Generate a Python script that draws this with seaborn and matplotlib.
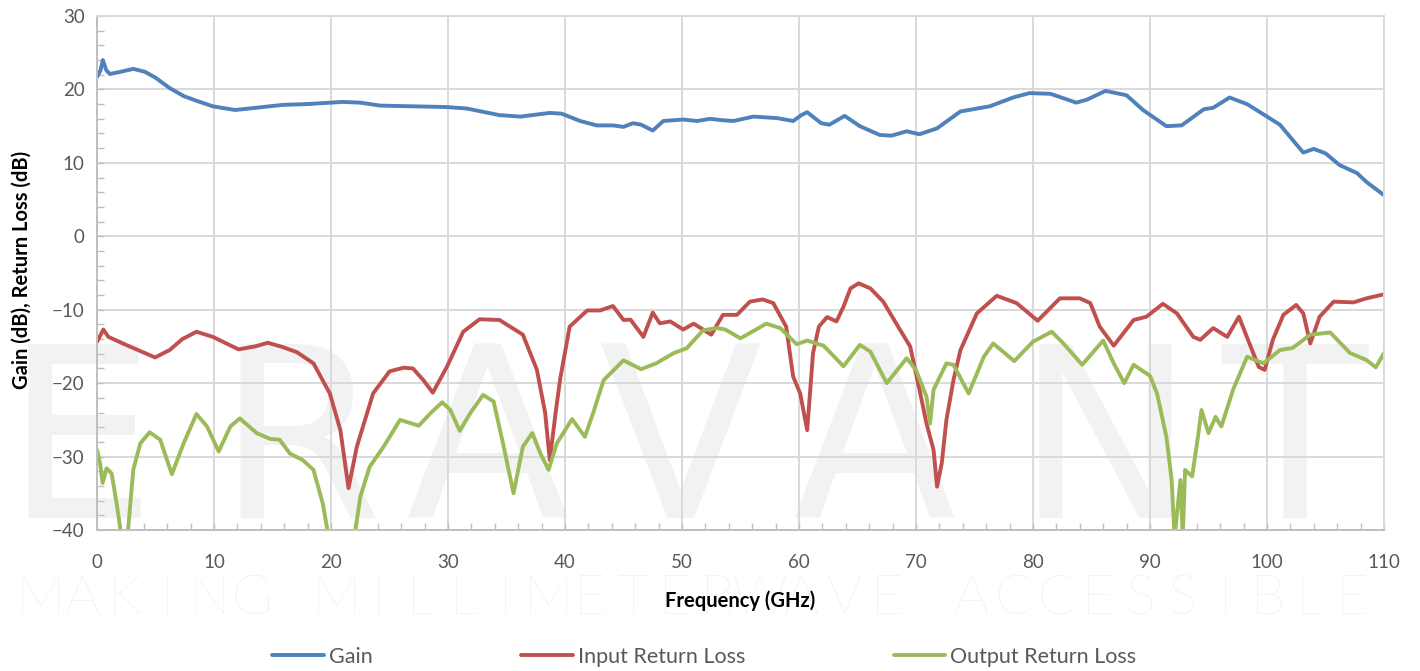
import pandas as pd
import matplotlib
matplotlib.use('Agg')
import matplotlib.pyplot as plt
from matplotlib.lines import Line2D
from matplotlib.ticker import MultipleLocator
import seaborn as sns

# Values (frequency in GHz, level in dB)
gain_freq = [0, 0.3, 0.5, 0.8, 1.1, 2.0, 3.1, 4.1, 5.0, 6.2, 7.4, 8.6, 9.9, 11.8, 13.6,
             15.9, 17.9, 21.0, 22.5, 24.2, 27.0, 29.9, 31.6, 34.4, 36.2, 38.7, 39.7, 41.3,
             42.7, 44.1, 45.0, 45.8, 46.5, 47.5, 48.4, 50.1, 51.3, 52.4, 53.5, 54.4, 56.1,
             58.1, 59.5, 60.2, 60.7, 61.9, 62.6, 63.9, 65.2, 66.9, 67.9, 69.2, 70.3, 71.8,
             73.8, 76.3, 78.3, 79.7, 81.5, 83.7, 84.6, 86.2, 88.0, 89.4, 91.4, 92.7, 94.6,
             95.4, 96.8, 98.3, 100.0, 101.1, 103.1, 104.0, 105.0, 106.2, 107.7, 108.5, 110]
gain_db = [21.7, 22.6, 24.0, 22.6, 22.1, 22.4, 22.8, 22.4, 21.6, 20.2, 19.1, 18.4, 17.7, 17.2, 17.5,
           17.9, 18.0, 18.3, 18.2, 17.8, 17.7, 17.6, 17.4, 16.5, 16.3, 16.8, 16.7, 15.7,
           15.1, 15.1, 14.9, 15.4, 15.2, 14.4, 15.7, 15.9, 15.7, 16.0, 15.8, 15.7, 16.3,
           16.1, 15.7, 16.5, 16.9, 15.4, 15.2, 16.4, 15.0, 13.8, 13.7, 14.3, 13.9, 14.7,
           17.0, 17.7, 18.9, 19.5, 19.4, 18.2, 18.6, 19.8, 19.2, 17.2, 15.0, 15.1, 17.3,
           17.5, 18.9, 18.0, 16.3, 15.2, 11.4, 11.9, 11.3, 9.7, 8.6, 7.4, 5.6]

irl_freq = [0, 0.54, 0.97, 2.5, 4.96, 6.2, 7.3, 8.5, 9.9, 12.1, 13.5, 14.6, 15.9, 17.1, 18.5,
            19.9, 20.8, 21.5, 22.2, 23.6, 25.0, 26.2, 27.0, 27.9, 28.7, 29.9, 31.3, 32.7,
            34.4, 36.4, 37.6, 38.3, 38.7, 39.2, 39.6, 40.4, 41.9, 43.0, 44.1, 45.0, 45.6,
            46.7, 47.5, 48.1, 49.0, 50.1, 51.0, 52.5, 53.5, 54.7, 55.8, 56.9, 57.8, 58.9,
            59.5, 60.1, 60.7, 61.2, 61.7, 62.4, 63.2, 63.8, 64.4, 65.1, 66.1, 67.2, 68.3,
            69.5, 70.3, 70.9, 71.5, 71.8, 72.2, 72.6, 73.2, 73.8, 75.2, 76.9, 78.6, 80.4,
            82.3, 84.0, 84.9, 85.7, 86.9, 88.6, 89.7, 91.1, 92.3, 93.7, 94.3, 95.4, 96.6,
            97.6, 98.5, 99.3, 99.8, 100.5, 101.4, 102.5, 103.1, 103.7, 104.5, 105.7, 107.4,
            108.5, 110]
irl_db = [-14.4, -12.7, -13.7, -14.8, -16.5, -15.5, -14.0, -13.0, -13.7, -15.4, -15.0, -14.5,
          -15.1, -15.8, -17.3, -21.4, -26.4, -34.3, -28.7, -21.4, -18.4, -17.9, -18.0, -19.6,
          -21.3, -17.8, -13.0, -11.3, -11.4, -13.4, -18.2, -24.0, -30.5, -24.0, -19.3, -12.3,
          -10.1, -10.1, -9.5, -11.4, -11.35, -13.7, -10.4, -11.85, -11.6, -12.7, -11.9, -13.4,
          -10.7, -10.7, -8.9, -8.6, -9.1, -12.3, -19.1, -21.4, -26.4, -15.9, -12.3, -11.0,
          -11.6, -9.6, -7.1, -6.4, -7.1, -8.9, -11.85, -15.0, -20.9, -25.5, -29.1, -34.1,
          -30.9, -25.0, -19.6, -15.5, -10.5, -8.1, -9.1, -11.5, -8.45, -8.45, -9.1, -12.3,
          -14.9, -11.4, -10.95, -9.2, -10.5, -13.7, -14.1, -12.5, -13.7, -10.95, -14.6, -17.8,
          -18.2, -14.1, -10.7, -9.35, -10.5, -14.6, -10.95, -8.9, -9.0, -8.45, -7.9]

orl_freq = [0, 0.26, 0.48, 0.82, 1.25, 1.68, 2.1, 2.6, 3.1, 3.7, 4.5, 5.4, 6.4, 7.4, 8.5, 9.4,
            10.4, 11.4, 12.2, 13.65, 14.8, 15.6, 16.5, 17.6, 18.5, 19.3, 19.8, 22.0, 22.5,
            23.3, 24.5, 25.9, 27.5, 28.5, 29.5, 30.2, 31.0, 31.9, 33.0, 33.9, 34.7, 35.6,
            36.4, 37.2, 37.9, 38.6, 39.3, 40.6, 41.7, 42.4, 43.3, 45.0, 46.5, 47.8, 49.3,
            50.4, 51.8, 53.0, 53.7, 55.0, 57.2, 58.4, 59.8, 60.7, 62.1, 63.8, 65.2, 66.1,
            67.5, 69.2, 70.0, 70.9, 71.2, 71.5, 72.6, 73.2, 74.5, 75.8, 76.6, 78.4, 80.0,
            81.6, 82.6, 84.2, 86.0, 86.9, 87.8, 88.6, 90.0, 90.6, 91.4, 91.85, 92.1, 92.6,
            92.8, 93.0, 93.6, 94.1, 94.4, 95.0, 95.6, 96.1, 97.1, 98.3, 99.7, 101.1, 102.2,
            103.7, 105.4, 107.1, 108.5, 109.3, 110]
orl_db = [-29.1, -30.9, -33.6, -31.6, -32.3, -36.4, -41.0, -41.0, -31.8, -28.2, -26.7, -27.7,
          -32.4, -28.2, -24.2, -25.9, -29.3, -25.9, -24.8, -26.8, -27.6, -27.7, -29.6, -30.5,
          -31.8, -36.4, -41.0, -41.0, -35.5, -31.4, -28.65, -25.0, -25.8, -24.1, -22.6,
          -23.65, -26.5, -24.1, -21.6, -22.5, -28.2, -35.0, -28.65, -26.8, -29.6, -31.8,
          -28.2, -24.9, -27.3, -24.1, -19.6, -16.9, -18.1, -17.3, -15.9, -15.25, -12.8,
          -12.5, -12.7, -13.9, -11.9, -12.5, -14.7, -14.2, -14.9, -17.7, -14.8, -15.7,
          -20.0, -16.6, -18.2, -21.85, -25.5, -20.9, -17.3, -17.5, -21.4, -16.4, -14.6,
          -17.0, -14.35, -13.0, -14.6, -17.5, -14.2, -17.3, -20.0, -17.5, -19.0, -21.4,
          -27.3, -33.2, -41.0, -33.2, -41.0, -31.8, -32.7, -27.3, -23.65, -26.8, -24.6,
          -25.9, -20.9, -16.4, -17.3, -15.5, -15.2, -13.4, -13.1, -15.9, -16.85, -17.85, -15.9]

trace_names = ['Gain', 'Input Return Loss', 'Output Return Loss']
trace_colors = ['#4F81BD', '#C0504D', '#9BBB59']

watermark_letters = ['E', 'R', 'A', 'V', 'A', 'N', 'T']
watermark_centers = [80, 300, 487, 680, 874, 1105, 1295]   # pixel x of each letter
slogan = 'MAKING MILLIMETERWAVE ACCESSIBLE'

df = pd.concat([
    pd.DataFrame({'freq': gain_freq, 'db': gain_db, 'trace': trace_names[0]}),
    pd.DataFrame({'freq': irl_freq, 'db': irl_db, 'trace': trace_names[1]}),
    pd.DataFrame({'freq': orl_freq, 'db': orl_db, 'trace': trace_names[2]}),
], ignore_index=True)

sns.set_theme(style='white')
plt.rcParams['font.family'] = ['Lato', 'DejaVu Sans']

W, H = 1420, 671
fig = plt.figure(figsize=(W / 100, H / 100), dpi=100)
fig.patch.set_facecolor('white')
ax = fig.add_axes([97 / W, 1 - 530 / H, (1384 - 97) / W, (530 - 16) / H])
ax.set_facecolor('none')

# faint company watermark behind the plot
for ch, xc in zip(watermark_letters, watermark_centers):
    fig.text(xc / W, 1 - 518 / H, ch, ha='center', va='baseline', fontsize=172,
             color='#f2f2f2', family='DejaVu Sans', zorder=-2)
step = (1352 - 40) / (len(slogan) - 1)
for i, ch in enumerate(slogan):
    fig.text((40 + i * step) / W, 1 - 614 / H, ch, ha='center', va='baseline', fontsize=40,
             color='#ececec', family='Lato', fontweight=200, zorder=-2)

sns.lineplot(data=df, x='freq', y='db', hue='trace', palette=dict(zip(trace_names, trace_colors)),
             estimator=None, sort=False, linewidth=2.8, legend=False, ax=ax)

ax.set_xlim(0, 110)
ax.set_ylim(-40, 30)
ax.xaxis.set_major_locator(MultipleLocator(10))
ax.xaxis.set_minor_locator(MultipleLocator(2))
ax.yaxis.set_major_locator(MultipleLocator(10))
ax.yaxis.set_minor_locator(MultipleLocator(2))
ax.grid(True, which='major', color='#d9d9d9', linewidth=1.4)
ax.set_axisbelow(True)
for side, sp in ax.spines.items():
    sp.set_visible(True)
    sp.set_color('#bfbfbf' if side in ('left', 'bottom') else '#d9d9d9')
    sp.set_linewidth(1.4)
ax.tick_params(which='both', direction='in', color='#bfbfbf', length=5, width=1,
               left=True, bottom=True, labelsize=13.5, labelcolor='#595959')
ax.tick_params(axis='x', which='major', pad=17)
ax.tick_params(axis='y', which='major', pad=9)

ax.set_xlabel('Frequency (GHz)', fontsize=14.5, fontweight='bold', color='black')
ax.set_ylabel('Gain (dB), Return Loss (dB)', fontsize=14.5, fontweight='bold', color='black')
ax.xaxis.set_label_coords(0.5, (530 - 601) / 514)
ax.xaxis.label.set_va('center')
ax.yaxis.set_label_coords((22 - 97) / 1287, (530 - 270) / 514)
ax.yaxis.label.set_va('center')

handles = [Line2D([], [], color=c, linewidth=2.8) for c in trace_colors]
leg = fig.legend(handles, trace_names, loc='center', bbox_to_anchor=(0.496, 1 - 657 / H), ncol=3,
                 frameon=False, fontsize=15.5, handlelength=2.4, handletextpad=0.23,
                 columnspacing=6.9)
for t in leg.get_texts():
    t.set_color('#595959')

fig.savefig('out.png', dpi=100)
